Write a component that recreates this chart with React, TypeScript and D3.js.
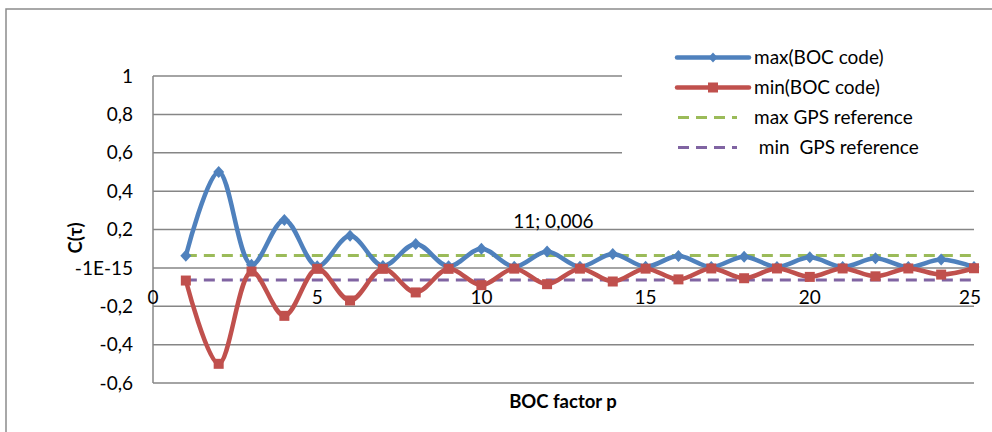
import React from "react";
import * as d3 from "d3";

const pValues = [1, 2, 3, 4, 5, 6, 7, 8, 9, 10, 11, 12, 13, 14, 15, 16, 17, 18, 19, 20, 21, 22, 23, 24, 25];
const maxBoc = [0.063, 0.5, 0.016, 0.25, 0.008, 0.167, 0.01, 0.125, 0.008, 0.1, 0.006, 0.085, 0.006, 0.072, 0.006, 0.062, 0.005, 0.058, 0.005, 0.055, 0.005, 0.05, 0.004, 0.044, 0.004];
const minBoc = [-0.066, -0.5, -0.019, -0.25, -0.005, -0.17, -0.005, -0.128, -0.005, -0.09, -0.004, -0.085, -0.004, -0.071, -0.004, -0.06, -0.003, -0.054, -0.003, -0.047, -0.003, -0.044, -0.003, -0.035, -0.002];
const maxGps = [0.064, 0.064, 0.064, 0.064, 0.064, 0.064, 0.064, 0.064, 0.064, 0.064, 0.064, 0.064, 0.064, 0.064, 0.064, 0.064, 0.064, 0.064, 0.064, 0.064, 0.064, 0.064, 0.064, 0.064, 0.064];
const minGps = [-0.063, -0.063, -0.063, -0.063, -0.063, -0.063, -0.063, -0.063, -0.063, -0.063, -0.063, -0.063, -0.063, -0.063, -0.063, -0.063, -0.063, -0.063, -0.063, -0.063, -0.063, -0.063, -0.063, -0.063, -0.063];

const yTicks = [1, 0.8, 0.6, 0.4, 0.2, 0, -0.2, -0.4, -0.6];
const yTickLabels = ["1", "0,8", "0,6", "0,4", "0,2", "-1E-15", "-0,2", "-0,4", "-0,6"];
const xTicks = [0, 5, 10, 15, 20, 25];
const xTickLabels = ["0", "5", "10", "15", "20", "25"];

const seriesNames = ["max(BOC code)", "min(BOC code)", "max GPS reference", " min  GPS reference"];
const dataLabel = { p: 11, text: "11; 0,006" };

const BLUE = "#4F81BD";
const RED = "#C0504D";
const GREEN = "#9BBB59";
const PURPLE = "#8064A2";
const GRID = "#868686";
const FONT = "Lato, 'Open Sans', sans-serif";

export default function App() {
  const W = 992, H = 432;
  const x = d3.scaleLinear().domain([0, 25]).range([153, 974]);
  const y = d3.scaleLinear().domain([-0.6, 1]).range([383, 76]);

  const smooth = d3
    .line<[number, number]>()
    .x((d) => x(d[0]))
    .y((d) => y(d[1]))
    .curve(d3.curveCatmullRom.alpha(0.5));
  const straight = d3
    .line<[number, number]>()
    .x((d) => x(d[0]))
    .y((d) => y(d[1]));

  const maxPts = pValues.map((p, i) => [p, maxBoc[i]] as [number, number]);
  const minPts = pValues.map((p, i) => [p, minBoc[i]] as [number, number]);
  const maxGpsPts = pValues.map((p, i) => [p, maxGps[i]] as [number, number]);
  const minGpsPts = pValues.map((p, i) => [p, minGps[i]] as [number, number]);

  const legendX1 = 677, legendX2 = 749, legendText = 754;
  const legendYs = [57.5, 87.5, 117.5, 147.5];
  const dash = "11,7";

  const labelIdx = pValues.indexOf(dataLabel.p);

  return (
    <div style={{ position: "absolute", left: 0, top: 0 }}>
      <svg width={W} height={H} style={{ display: "block", background: "#fff" }}>
        <path d={`M6,${H + 5} L6,9 L${W + 5},9`} fill="none" stroke="#8c8c8c" strokeWidth={1.5} />

        {yTicks.map((t) => (
          <line key={t} x1={x(0)} x2={x(25)} y1={y(t)} y2={y(t)} stroke={GRID} strokeWidth={1.5} />
        ))}
        <line x1={x(0)} x2={x(0)} y1={y(1)} y2={y(-0.6)} stroke={GRID} strokeWidth={1.5} />

        {yTicks.map((t, i) => (
          <text key={t} x={133} y={y(t)} dy="0.35em" textAnchor="end" fontFamily={FONT} fontSize={19} fill="#000">
            {yTickLabels[i]}
          </text>
        ))}
        {xTicks.map((t, i) => (
          <text key={t} x={x(t) - (t === 25 ? 4 : 0)} y={y(0) + 29} dy="0.35em" textAnchor="middle" fontFamily={FONT} fontSize={19} fill="#000">
            {xTickLabels[i]}
          </text>
        ))}

        <text x={563} y={402} dy="0.35em" textAnchor="middle" fontFamily={FONT} fontSize={18.5} fontWeight="bold" fill="#000">
          BOC factor p
        </text>
        <text transform={`translate(76,238) rotate(-90)`} dy="0.35em" textAnchor="middle" fontFamily={FONT} fontSize={18.5} fontWeight="bold" fill="#000">
          C(τ)
        </text>

        <path d={straight(maxGpsPts) || ""} fill="none" stroke={GREEN} strokeWidth={3} strokeDasharray={dash} />
        <path d={straight(minGpsPts) || ""} fill="none" stroke={PURPLE} strokeWidth={3} strokeDasharray={dash} />

        <path d={smooth(maxPts) || ""} fill="none" stroke={BLUE} strokeWidth={4.5} strokeLinejoin="round" />
        {maxPts.map((d, i) => (
          <path key={i} d={`M${x(d[0])},${y(d[1]) - 6} l5.5,6 l-5.5,6 l-5.5,-6 Z`} fill={BLUE} />
        ))}
        <path d={smooth(minPts) || ""} fill="none" stroke={RED} strokeWidth={4.5} strokeLinejoin="round" />
        {minPts.map((d, i) => (
          <rect key={i} x={x(d[0]) - 5} y={y(d[1]) - 5} width={10} height={10} fill={RED} />
        ))}

        <text x={x(dataLabel.p) - 1} y={y(maxBoc[labelIdx]) - 45} dy="0.35em" fontFamily={FONT} fontSize={19} fill="#000">
          {dataLabel.text}
        </text>

        <rect x={622} y={32} width={370} height={132} fill="#fff" />
        <line x1={legendX1} x2={legendX2} y1={legendYs[0]} y2={legendYs[0]} stroke={BLUE} strokeWidth={4.5} strokeLinecap="round" />
        <path d={`M${(legendX1 + legendX2) / 2},${legendYs[0] - 5} l4.5,5 l-4.5,5 l-4.5,-5 Z`} fill={BLUE} />
        <line x1={legendX1} x2={legendX2} y1={legendYs[1]} y2={legendYs[1]} stroke={RED} strokeWidth={4.5} strokeLinecap="round" />
        <rect x={(legendX1 + legendX2) / 2 - 5} y={legendYs[1] - 5} width={10} height={10} fill={RED} />
        <line x1={legendX1 + 1} x2={legendX1 + 60} y1={legendYs[2]} y2={legendYs[2]} stroke={GREEN} strokeWidth={3} strokeDasharray={dash} />
        <line x1={legendX1 + 1} x2={legendX1 + 60} y1={legendYs[3]} y2={legendYs[3]} stroke={PURPLE} strokeWidth={3} strokeDasharray={dash} />
        {seriesNames.map((n, i) => (
          <text key={n} x={legendText} y={legendYs[i]} dy="0.35em" fontFamily={FONT} fontSize={19} fill="#000" style={{ whiteSpace: "pre" }}>
            {n}
          </text>
        ))}
      </svg>
    </div>
  );
}
